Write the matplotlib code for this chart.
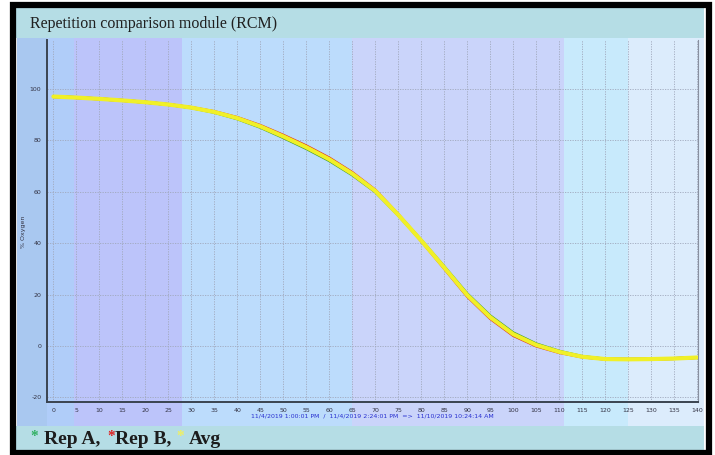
import matplotlib
matplotlib.use("Agg")
import matplotlib.pyplot as plt
from matplotlib.patches import Rectangle

plt.rcParams["axes.unicode_minus"] = False

# ---- data ----
x_vals = [0, 5, 10, 15, 20, 25, 30, 35, 40, 45, 50, 55, 60, 65, 70, 75, 80, 85, 90, 95,
          100, 105, 110, 115, 120, 125, 130, 135, 140]
rep_a = [97.0, 96.6, 96.1, 95.5, 94.8, 93.9, 92.65, 90.85, 88.35, 85.05, 81.05, 76.8, 72.1, 66.55,
         60.0, 50.9, 41.1, 30.8, 20.25, 11.7, 5.1, 0.8, -2.05, -4.1, -5.1, -5.2, -5.1, -4.9, -4.5]
rep_b = [97.0, 96.6, 96.1, 95.5, 94.8, 93.9, 92.75, 91.15, 88.85, 85.75, 81.95, 77.8, 73.1, 67.45,
         60.6, 51.1, 40.9, 30.2, 19.35, 10.7, 4.1, 0.0, -2.55, -4.3, -5.1, -5.2, -5.1, -4.9, -4.5]
avg = [97.0, 96.6, 96.1, 95.5, 94.8, 93.9, 92.7, 91.0, 88.6, 85.4, 81.5, 77.3, 72.6, 67.0,
       60.3, 51.0, 41.0, 30.5, 19.8, 11.2, 4.6, 0.4, -2.3, -4.2, -5.1, -5.2, -5.1, -4.9, -4.5]
x_ticks = list(range(0, 141, 5))
y_ticks = [-20, 0, 20, 40, 60, 80, 100]
title = "Repetition comparison module (RCM)"
y_label = "% Oxygen"
x_label = "11/4/2019 1:00:01 PM  /  11/4/2019 2:24:01 PM  =>  11/10/2019 10:24:14 AM"
legend_names = ["Rep A,", "Rep B,", "Avg"]

# background bands (x ranges in data units) and colours
band_edges = [-8.0, -1.4, 4.5, 28.0, 65.0, 111.0, 125.0, 141.5]
band_colors = ["#a9c8f0", "#b0cdf9", "#bcc4fa", "#bcdcfc", "#cad4fa", "#c8eafc", "#dcecfc"]

W, H = 715, 455
fig = plt.figure(figsize=(W / 100, H / 100), dpi=100)
fig.patch.set_facecolor("white")


def fx(px):
    return px / W


def fy(py):
    return 1 - py / H


ax_left, ax_right, ax_top, ax_bottom = 47, 698, 40, 402
ax_w = ax_right - ax_left
ax = fig.add_axes([fx(ax_left), fy(ax_bottom), ax_w / W, (ax_bottom - ax_top) / H])
ax.set_facecolor("none")

ax_h = ax_bottom - ax_top
ymin_ext = -(426 - ax_bottom) / ax_h
ymax_ext = 1 + (ax_top - 38) / ax_h
for i, c in enumerate(band_colors):
    ax.axvspan(band_edges[i], band_edges[i + 1], ymin=ymin_ext, ymax=ymax_ext,
               color=c, lw=0, zorder=0, clip_on=False)

ax.set_xlim(-1.4, 140.2)
ax.set_ylim(-21.8, 119.0)
ax.set_xticks(x_ticks)
ax.set_yticks(y_ticks)
ax.tick_params(length=0, labelsize=4.5, labelcolor="#333344", pad=4)
ax.grid(True, color="#a0a8bc", linestyle=(0, (1.5, 1.5)), linewidth=0.6, zorder=1)
ax.set_axisbelow(True)
ax.spines["top"].set_visible(False)
for s in ["left", "bottom"]:
    ax.spines[s].set_color("#3a4450")
    ax.spines[s].set_linewidth(1.4)
ax.spines["right"].set_color("#8890a0")
ax.spines["right"].set_linewidth(0.8)

ax.set_ylabel(y_label, fontsize=4.5, color="#333344")
ax.yaxis.set_label_coords((26 - ax_left) / ax_w, 0.47)
ax.set_xlabel(x_label, fontsize=4.5, color="#2830d0", labelpad=0.5)

ax.plot(x_vals, rep_a, color="#3a9a30", lw=2.2, zorder=3, solid_capstyle="round")
ax.plot(x_vals, rep_b, color="#e03020", lw=2.2, zorder=3, solid_capstyle="round")
ax.plot(x_vals, avg, color="#f0f028", lw=3.0, zorder=4, solid_capstyle="round")

# title bar and legend bar
fig.add_artist(Rectangle((fx(16), fy(38)), (704 - 16) / W, (38 - 8) / H,
                         transform=fig.transFigure, color="#b5dde5", lw=0, zorder=-1))
fig.add_artist(Rectangle((fx(16), fy(452)), (704 - 16) / W, (452 - 426) / H,
                         transform=fig.transFigure, color="#b5dde5", lw=0, zorder=-1))
fig.text(fx(30), fy(24), title, fontsize=11.5, family="Liberation Serif",
         color="#202020", va="center", ha="left")

# legend text
serif = "Liberation Serif"
star_colors = ["#30b060", "#e02020", "#f0f060"]
star_x = [30, 107, 176]
name_x = [44, 115, 189]
for sx, nx, sc, nm in zip(star_x, name_x, star_colors, legend_names):
    fig.text(fx(sx), fy(437), "*", fontsize=11, family=serif, color=sc, va="center", ha="left",
             fontweight="bold")
    fig.text(fx(nx), fy(440), nm, fontsize=14, family=serif, color="#1c1c1c",
             va="center", ha="left", fontweight="bold")

# outer black frame
fig.add_artist(Rectangle((fx(13), fy(453)), (709 - 13) / W, (453 - 5) / H,
                         transform=fig.transFigure, fill=False, edgecolor="black",
                         lw=4.5, zorder=10))

fig.savefig("out.png", dpi=100)
